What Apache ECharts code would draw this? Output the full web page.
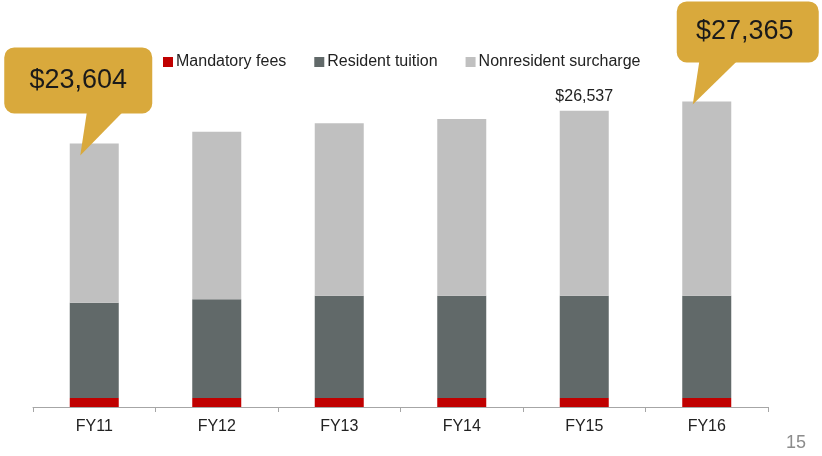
<!DOCTYPE html>
<html>
<head>
<meta charset="utf-8">
<style>
  html, body { margin: 0; padding: 0; background: #ffffff; }
  #chart { width: 822px; height: 456px; }
</style>
<script src="https://cdn.jsdelivr.net/npm/echarts@6/dist/echarts.min.js"></script>
</head>
<body>
<div id="chart"></div>
<script>
// Fiscal years on the category axis
const categories = ['FY11', 'FY12', 'FY13', 'FY14', 'FY15', 'FY16'];

// Cost components per year (dollars)
const mandatoryFees = [810, 810, 810, 810, 810, 810];
const residentTuition = [8530, 8840, 9160, 9160, 9160, 9160];
const nonresidentSurcharge = [14264, 14990, 15450, 15810, 16567, 17395];

// Totals called out on the chart
const totals = categories.map((_, i) => mandatoryFees[i] + residentTuition[i] + nonresidentSurcharge[i]);
const labelledYear = 'FY15';
const calloutYears = ['FY11', 'FY16'];

const money = v => '$' + v.toLocaleString('en-US');
const FONT = '"Liberation Sans", Arial, sans-serif';

const chart = echarts.init(document.getElementById('chart'));

const option = {
  animation: false,
  textStyle: { fontFamily: FONT },
  grid: { left: 33, right: 54, top: 72, bottom: 49 },
  legend: {
    left: 163,
    top: 54,
    padding: 0,
    icon: 'rect',
    itemWidth: 10,
    itemHeight: 10,
    itemGap: 28,
    textStyle: { fontSize: 16, color: '#222', fontFamily: FONT, padding: [0, 0, 0, -2] },
    data: ['Mandatory fees', 'Resident tuition', 'Nonresident surcharge']
  },
  xAxis: {
    type: 'category',
    data: categories,
    axisLine: { lineStyle: { color: '#a6a6a6', width: 1 } },
    axisTick: { show: true, length: 5, lineStyle: { color: '#a6a6a6' } },
    axisLabel: { fontSize: 16, color: '#222', margin: 12, fontFamily: FONT }
  },
  yAxis: {
    type: 'value',
    min: 0,
    max: 30000,
    show: false,
    splitLine: { show: false }
  },
  series: [
    {
      name: 'Mandatory fees',
      type: 'bar',
      stack: 'cost',
      barWidth: '40%',
      itemStyle: { color: '#c00000' },
      data: mandatoryFees
    },
    {
      name: 'Resident tuition',
      type: 'bar',
      stack: 'cost',
      itemStyle: { color: '#616969' },
      data: residentTuition
    },
    {
      name: 'Nonresident surcharge',
      type: 'bar',
      stack: 'cost',
      itemStyle: { color: '#c0c0c0' },
      data: nonresidentSurcharge.map((v, i) => categories[i] === labelledYear ? {
        value: v,
        label: {
          show: true,
          position: 'top',
          distance: 6,
          fontSize: 16,
          color: '#222',
          fontFamily: FONT,
          formatter: () => money(totals[i])
        }
      } : v)
    }
  ]
};

chart.setOption(option);

// Speech-bubble callouts whose tails point into the top of the FY11 and FY16 bars
function bubble(year, layout) {
  const i = categories.indexOf(year);
  const top = chart.convertToPixel({ gridIndex: 0 }, [year, totals[i]]);
  const tx = top[0] - 14;
  const ty = top[1] + layout.dip;
  const bx = tx + layout.dx;
  const by = ty + layout.dy;
  const bottom = by + layout.h;
  return {
    type: 'group',
    z: 20,
    children: [
      {
        type: 'polygon',
        z: 20,
        shape: { points: [[tx + layout.t0, bottom - 4], [tx + layout.t1, bottom - 4], [tx, ty]] },
        style: { fill: '#d9a93c' }
      },
      {
        type: 'rect',
        z: 20,
        shape: { x: bx, y: by, width: layout.w, height: layout.h, r: 10 },
        style: { fill: '#d9a93c' }
      },
      {
        type: 'text',
        z: 21,
        x: bx + layout.w / 2 + layout.tx,
        y: by + layout.h / 2,
        style: {
          text: money(totals[i]),
          fontSize: 27,
          fontFamily: FONT,
          fill: '#1a1a1a',
          align: 'center',
          verticalAlign: 'middle'
        }
      }
    ]
  };
}

chart.setOption({
  graphic: [
    bubble(calloutYears[0], { dip: 12, dx: -76, dy: -108, w: 148, h: 66, t0: 7, t1: 45, tx: 0 }),
    bubble(calloutYears[1], { dip: 3, dx: -16, dy: -103, w: 142, h: 61, t0: 7, t1: 47, tx: -3 }),
    {
      type: 'text',
      right: 16,
      top: 434,
      style: { text: '15', fontSize: 18, fontFamily: FONT, fill: '#8c8c8c' }
    }
  ]
});
</script>
</body>
</html>
